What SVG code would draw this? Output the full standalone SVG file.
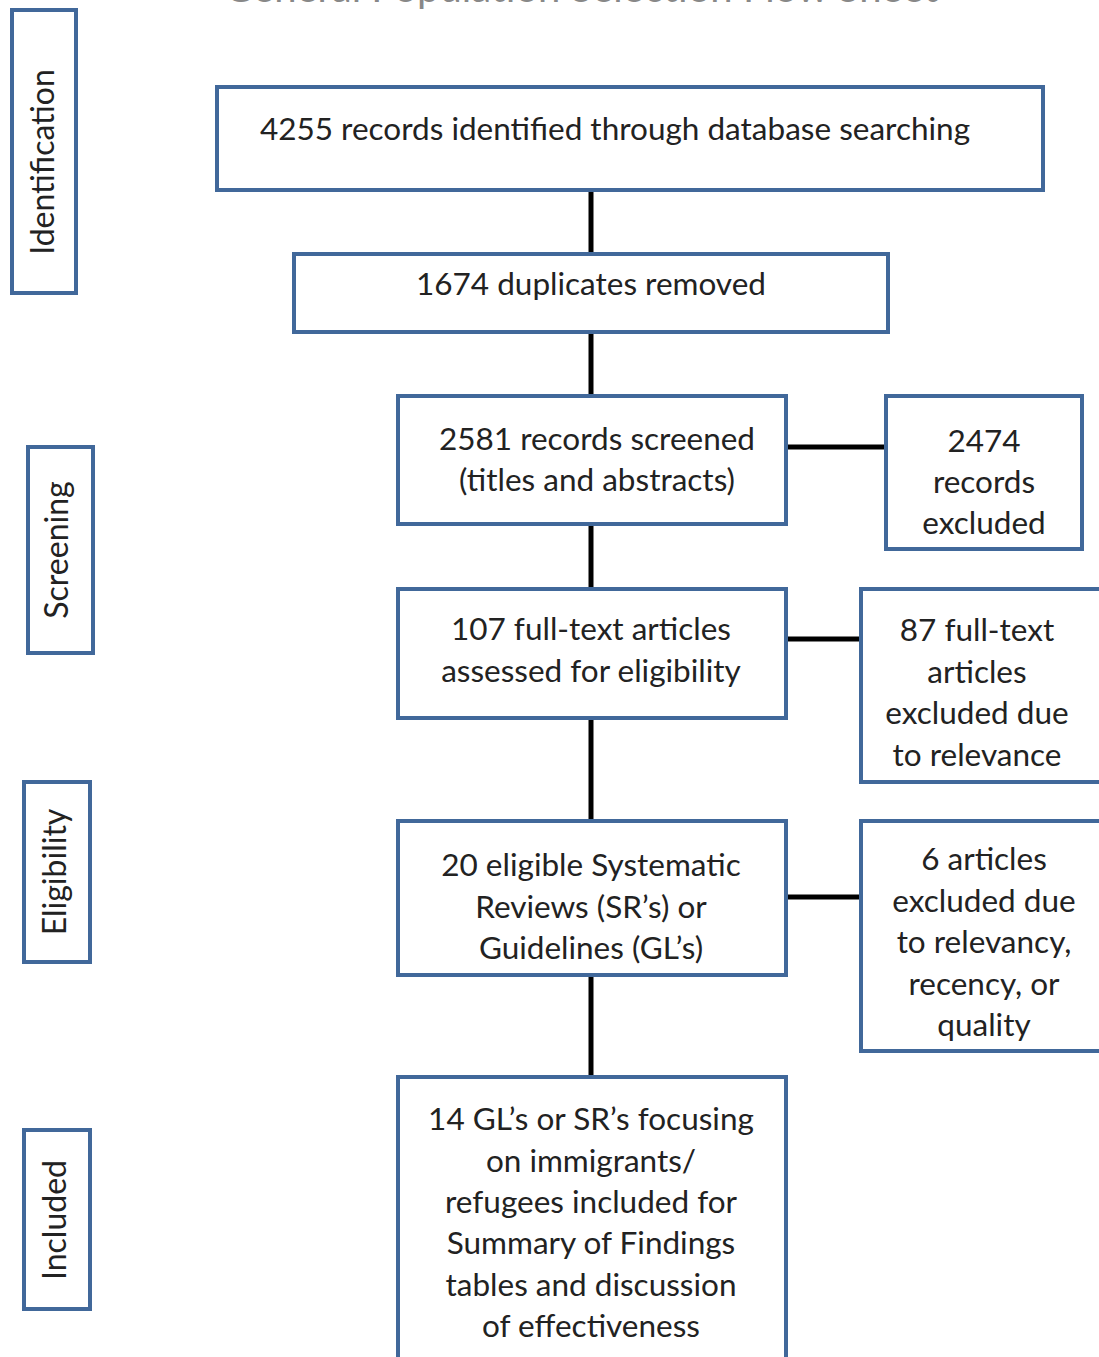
<svg xmlns="http://www.w3.org/2000/svg" width="1099" height="1357" viewBox="0 0 1099 1357">
<style>
.box{fill:#fff;stroke:#41689a;stroke-width:4}
.t{font-family:Lato,"Open Sans",sans-serif;font-size:31.5px;fill:#222;text-anchor:middle}
.s{font-family:Lato,"Open Sans",sans-serif;font-size:32px;fill:#222;text-anchor:middle}
.title{font-family:Lato,"Open Sans",sans-serif;font-size:40px;fill:#888;text-anchor:middle}
.c{stroke:#000;stroke-width:5;fill:none}
</style>
<rect width="1099" height="1357" fill="#fff"/>
<text class="title" x="581" y="2">General Population Selection Flow Sheet</text>
<g id="connectors">
<line class="c" x1="591" y1="190" x2="591" y2="254"/>
<line class="c" x1="591" y1="332" x2="591" y2="396"/>
<line class="c" x1="591" y1="524" x2="591" y2="589"/>
<line class="c" x1="591" y1="718" x2="591" y2="821"/>
<line class="c" x1="591" y1="975" x2="591" y2="1077"/>
<line class="c" x1="786" y1="447" x2="886" y2="447"/>
<line class="c" x1="786" y1="639" x2="861" y2="639"/>
<line class="c" x1="786" y1="897" x2="861" y2="897"/>
</g>
<g id="stage-identification">
<rect class="box" x="12" y="10" width="64" height="283"/>
<text class="s" transform="translate(54 162) rotate(-90)">Identification</text>
</g>
<g id="stage-screening">
<rect class="box" x="28" y="447" width="65" height="206"/>
<text class="s" transform="translate(68 550) rotate(-90)">Screening</text>
</g>
<g id="stage-eligibility">
<rect class="box" x="24" y="782" width="66" height="180"/>
<text class="s" transform="translate(66 872) rotate(-90)">Eligibility</text>
</g>
<g id="stage-included">
<rect class="box" x="24" y="1130" width="66" height="179"/>
<text class="s" transform="translate(66 1220) rotate(-90)">Included</text>
</g>
<g id="n-identified">
<rect class="box" x="217" y="87" width="826" height="103"/>
<text class="t" x="615" y="140">4255 records identified through database searching</text>
</g>
<g id="n-duplicates">
<rect class="box" x="294" y="254" width="594" height="78"/>
<text class="t" x="591" y="295">1674 duplicates removed</text>
</g>
<g id="n-screened">
<rect class="box" x="398" y="396" width="388" height="128"/>
<text class="t" x="597" y="450">2581 records screened</text>
<text class="t" x="597" y="491">(titles and abstracts)</text>
</g>
<g id="n-excluded1">
<rect class="box" x="886" y="396" width="196" height="153"/>
<text class="t" x="984" y="452">2474</text>
<text class="t" x="984" y="493">records</text>
<text class="t" x="984" y="534">excluded</text>
</g>
<g id="n-fulltext">
<rect class="box" x="398" y="589" width="388" height="129"/>
<text class="t" x="591" y="640">107 full-text articles</text>
<text class="t" x="591" y="682">assessed for eligibility</text>
</g>
<g id="n-excluded2">
<rect class="box" x="861" y="589" width="250" height="193"/>
<text class="t" x="977" y="641">87 full-text</text>
<text class="t" x="977" y="683">articles</text>
<text class="t" x="977" y="724">excluded due</text>
<text class="t" x="977" y="766">to relevance</text>
</g>
<g id="n-eligible">
<rect class="box" x="398" y="821" width="388" height="154"/>
<text class="t" x="591" y="876">20 eligible Systematic</text>
<text class="t" x="591" y="918">Reviews (SR’s) or</text>
<text class="t" x="591" y="959">Guidelines (GL’s)</text>
</g>
<g id="n-excluded3">
<rect class="box" x="861" y="821" width="250" height="230"/>
<text class="t" x="984" y="870">6 articles</text>
<text class="t" x="984" y="912">excluded due</text>
<text class="t" x="984" y="953">to relevancy,</text>
<text class="t" x="984" y="995">recency, or</text>
<text class="t" x="984" y="1036">quality</text>
</g>
<g id="n-included">
<rect class="box" x="398" y="1077" width="388" height="300"/>
<text class="t" x="591" y="1130">14 GL’s or SR’s focusing</text>
<text class="t" x="591" y="1172">on immigrants/</text>
<text class="t" x="591" y="1213">refugees included for</text>
<text class="t" x="591" y="1254">Summary of Findings</text>
<text class="t" x="591" y="1296">tables and discussion</text>
<text class="t" x="591" y="1337">of effectiveness</text>
</g>
</svg>
